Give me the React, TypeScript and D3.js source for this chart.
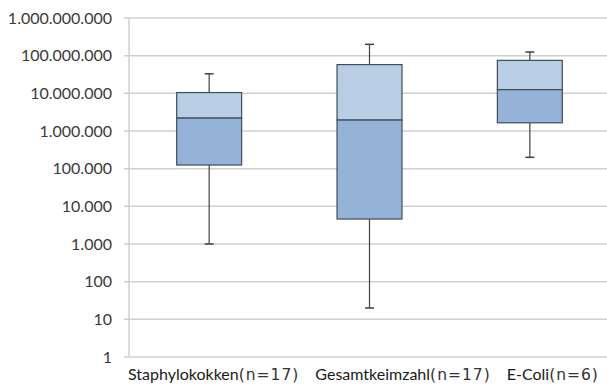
import * as d3 from 'd3';
import * as React from 'react';

const categories = ['Staphylokokken', 'Gesamtkeimzahl', 'E-Coli'];
const sampleLabels = ['(n=17)', '(n=17)', '(n=6)'];
const whiskerLow = [1000, 20, 2.0e5];
const q1 = [1.25e5, 4.6e3, 1.65e6];
const median = [2.2e6, 1.95e6, 1.25e7];
const q3 = [1.05e7, 5.8e7, 7.5e7];
const whiskerHigh = [3.3e7, 2.0e8, 1.25e8];
const tickValues = [1, 10, 100, 1e3, 1e4, 1e5, 1e6, 1e7, 1e8, 1e9];

const WIDTH = 607;
const HEIGHT = 385;
const margin = { top: 18, right: -3, bottom: 28, left: 129 };

const de = d3.formatLocale({ decimal: ',', thousands: '.', grouping: [3], currency: ['', ' €'] });
const fmt = de.format(',d');

const gridColor = '#d0d0d0';
const lineColor = '#404040';
const boxStroke = '#3f4b5b';
const upperFill = '#b9cde5';
const lowerFill = '#95b3d7';

export default function App() {
  const x = d3
    .scaleBand<string>()
    .domain(categories)
    .range([margin.left, WIDTH - margin.right]);
  const y = d3
    .scaleLog()
    .domain([1, 1e9])
    .range([HEIGHT - margin.bottom, margin.top]);

  const boxW = x.bandwidth() * 0.405;
  const capW = 9;

  return (
    <svg
      width={WIDTH}
      height={HEIGHT}
      style={{ position: 'fixed', left: 0, top: 0, background: '#fff' }}
      fontFamily="Lato, 'Open Sans', sans-serif"
    >
      {/* grid + y ticks */}
      {tickValues.map((t) => (
        <g key={t}>
          <line
            x1={margin.left - 5}
            x2={WIDTH}
            y1={y(t)}
            y2={y(t)}
            stroke={gridColor}
            strokeWidth={1.5}
          />
          <text
            x={112}
            y={y(t)}
            dy="0.36em"
            textAnchor="end"
            fontSize={16}
            fill="#3a3a3a"
          >
            {fmt(t)}
          </text>
        </g>
      ))}
      <line
        x1={margin.left}
        x2={margin.left}
        y1={margin.top}
        y2={y(1)}
        stroke={gridColor}
        strokeWidth={1.5}
      />

      {/* boxes */}
      {categories.map((c, i) => {
        const cx = (x(c) ?? 0) + x.bandwidth() / 2;
        const left = cx - boxW / 2;
        return (
          <g key={c}>
            <line x1={cx} x2={cx} y1={y(whiskerHigh[i])} y2={y(q3[i])} stroke={lineColor} strokeWidth={1.2} />
            <line x1={cx} x2={cx} y1={y(q1[i])} y2={y(whiskerLow[i])} stroke={lineColor} strokeWidth={1.2} />
            <line
              x1={cx - capW / 2}
              x2={cx + capW / 2}
              y1={y(whiskerHigh[i])}
              y2={y(whiskerHigh[i])}
              stroke={lineColor}
              strokeWidth={1.5}
            />
            <line
              x1={cx - capW / 2}
              x2={cx + capW / 2}
              y1={y(whiskerLow[i])}
              y2={y(whiskerLow[i])}
              stroke={lineColor}
              strokeWidth={1.5}
            />
            <rect
              x={left}
              y={y(q3[i])}
              width={boxW}
              height={y(median[i]) - y(q3[i])}
              fill={upperFill}
              stroke={boxStroke}
              strokeWidth={1.2}
            />
            <rect
              x={left}
              y={y(median[i])}
              width={boxW}
              height={y(q1[i]) - y(median[i])}
              fill={lowerFill}
              stroke={boxStroke}
              strokeWidth={1.2}
            />
          </g>
        );
      })}

      {/* category labels, laid out in one row like the original */}
      <text x={margin.left - 1} y={380} fontSize={16} fill="#1a1a1a">
        {categories.map((c, i) => (
          <React.Fragment key={c}>
            <tspan dx={i === 0 ? 0 : 16}>{c}</tspan>
            <tspan fontFamily="'DejaVu Sans', sans-serif" fontSize={15.5} letterSpacing={1} fill="#333">
              {sampleLabels[i]}
            </tspan>
          </React.Fragment>
        ))}
      </text>
    </svg>
  );
}
